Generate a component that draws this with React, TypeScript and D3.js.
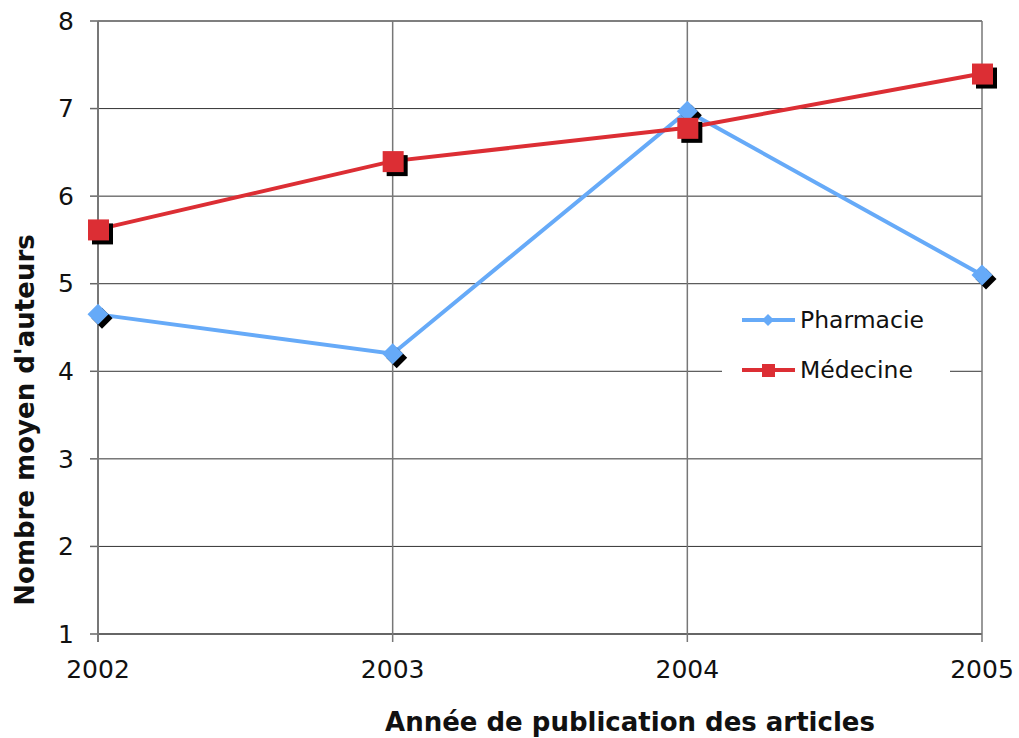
import React from 'react'
import * as d3 from 'd3'

const years = ['2002', '2003', '2004', '2005']
const pharmacie = [4.65, 4.2, 6.97, 5.1]
const medecine = [5.62, 6.4, 6.78, 7.4]
const yTicks = [1, 2, 3, 4, 5, 6, 7, 8]

const W = 1019
const H = 738
const m = { left: 98, right: 982, top: 21, bottom: 634 }
const blue = '#66aaf8'
const red = '#dc2e34'
const font = 'Verdana, "DejaVu Sans", sans-serif'

const App = () => {
  const x = d3.scalePoint<string>().domain(years).range([m.left, m.right])
  const y = d3.scaleLinear().domain([1, 8]).range([m.bottom, m.top])
  const line = d3.line<number>()
    .x((d, i) => x(years[i]) as number)
    .y(d => y(d))

  const diamond = (cx: number, cy: number, r: number) =>
    `M${cx},${cy - r}L${cx + r},${cy}L${cx},${cy + r}L${cx - r},${cy}Z`

  return (
    <svg width={W} height={H} style={{ position: 'absolute', left: 0, top: 0, background: '#fff' }}>
      {/* horizontal grid */}
      {yTicks.map(t => (
        <g key={t}>
          <line x1={m.left} x2={m.right} y1={y(t)} y2={y(t)} stroke={t === 1 ? '#666' : '#333'} strokeWidth={t === 1 ? 2 : 1} />
          <line x1={m.left - 8} x2={m.left} y1={y(t)} y2={y(t)} stroke="#666" strokeWidth={1.5} />
          <text x={m.left - 24} y={y(t)} dy="0.35em" textAnchor="end" fontSize={25} fontFamily={font} fill="#111">{t}</text>
        </g>
      ))}
      {/* vertical grid / x ticks */}
      {years.map(yr => (
        <g key={yr}>
          <line x1={x(yr)} x2={x(yr)} y1={m.top} y2={m.bottom + 8} stroke="#777" strokeWidth={yr === '2002' ? 2 : 1.5} />
          <text x={x(yr)} y={678} textAnchor="middle" fontSize={25} fontFamily={font} fill="#111">{yr}</text>
        </g>
      ))}
      <line x1={m.left} x2={m.right} y1={m.top} y2={m.top} stroke="#777" strokeWidth={1.5} />

      {/* Pharmacie */}
      <path d={line(pharmacie) || ''} fill="none" stroke={blue} strokeWidth={4} />
      {pharmacie.map((v, i) => (
        <g key={'p' + i}>
          <path d={diamond((x(years[i]) as number) + 4, y(v) + 4, 10.5)} fill="#000" />
          <path d={diamond(x(years[i]) as number, y(v), 10.5)} fill={blue} />
        </g>
      ))}

      {/* Médecine */}
      <path d={line(medecine) || ''} fill="none" stroke={red} strokeWidth={4} />
      {medecine.map((v, i) => (
        <g key={'m' + i}>
          <rect x={(x(years[i]) as number) - 10 + 4} y={y(v) - 10 + 4} width={21} height={21} fill="#000" />
          <rect x={(x(years[i]) as number) - 10} y={y(v) - 10} width={21} height={21} fill={red} />
        </g>
      ))}

      {/* legend */}
      <g>
        <rect x={722} y={296} width={228} height={96} fill="#fff" />
        <line x1={742} x2={795} y1={320} y2={320} stroke={blue} strokeWidth={4} />
        <path d={diamond(768, 320, 6)} fill={blue} />
        <text x={800} y={320} dy="0.35em" fontSize={23.5} fontFamily={font} fill="#111">Pharmacie</text>
        <line x1={742} x2={795} y1={370} y2={370} stroke={red} strokeWidth={4} />
        <rect x={762} y={364} width={13} height={13} fill={red} />
        <text x={800} y={370} dy="0.35em" fontSize={23.5} fontFamily={font} fill="#111">Médecine</text>
      </g>

      {/* axis titles */}
      <text x={630} y={731} textAnchor="middle" fontSize={26} fontWeight="bold" fontFamily={font} fill="#111">Année de publication des articles</text>
      <text transform="translate(34,420) rotate(-90)" textAnchor="middle" fontSize={26} fontWeight="bold" fontFamily={font} fill="#111">Nombre moyen d'auteurs</text>
    </svg>
  )
}

export default App
